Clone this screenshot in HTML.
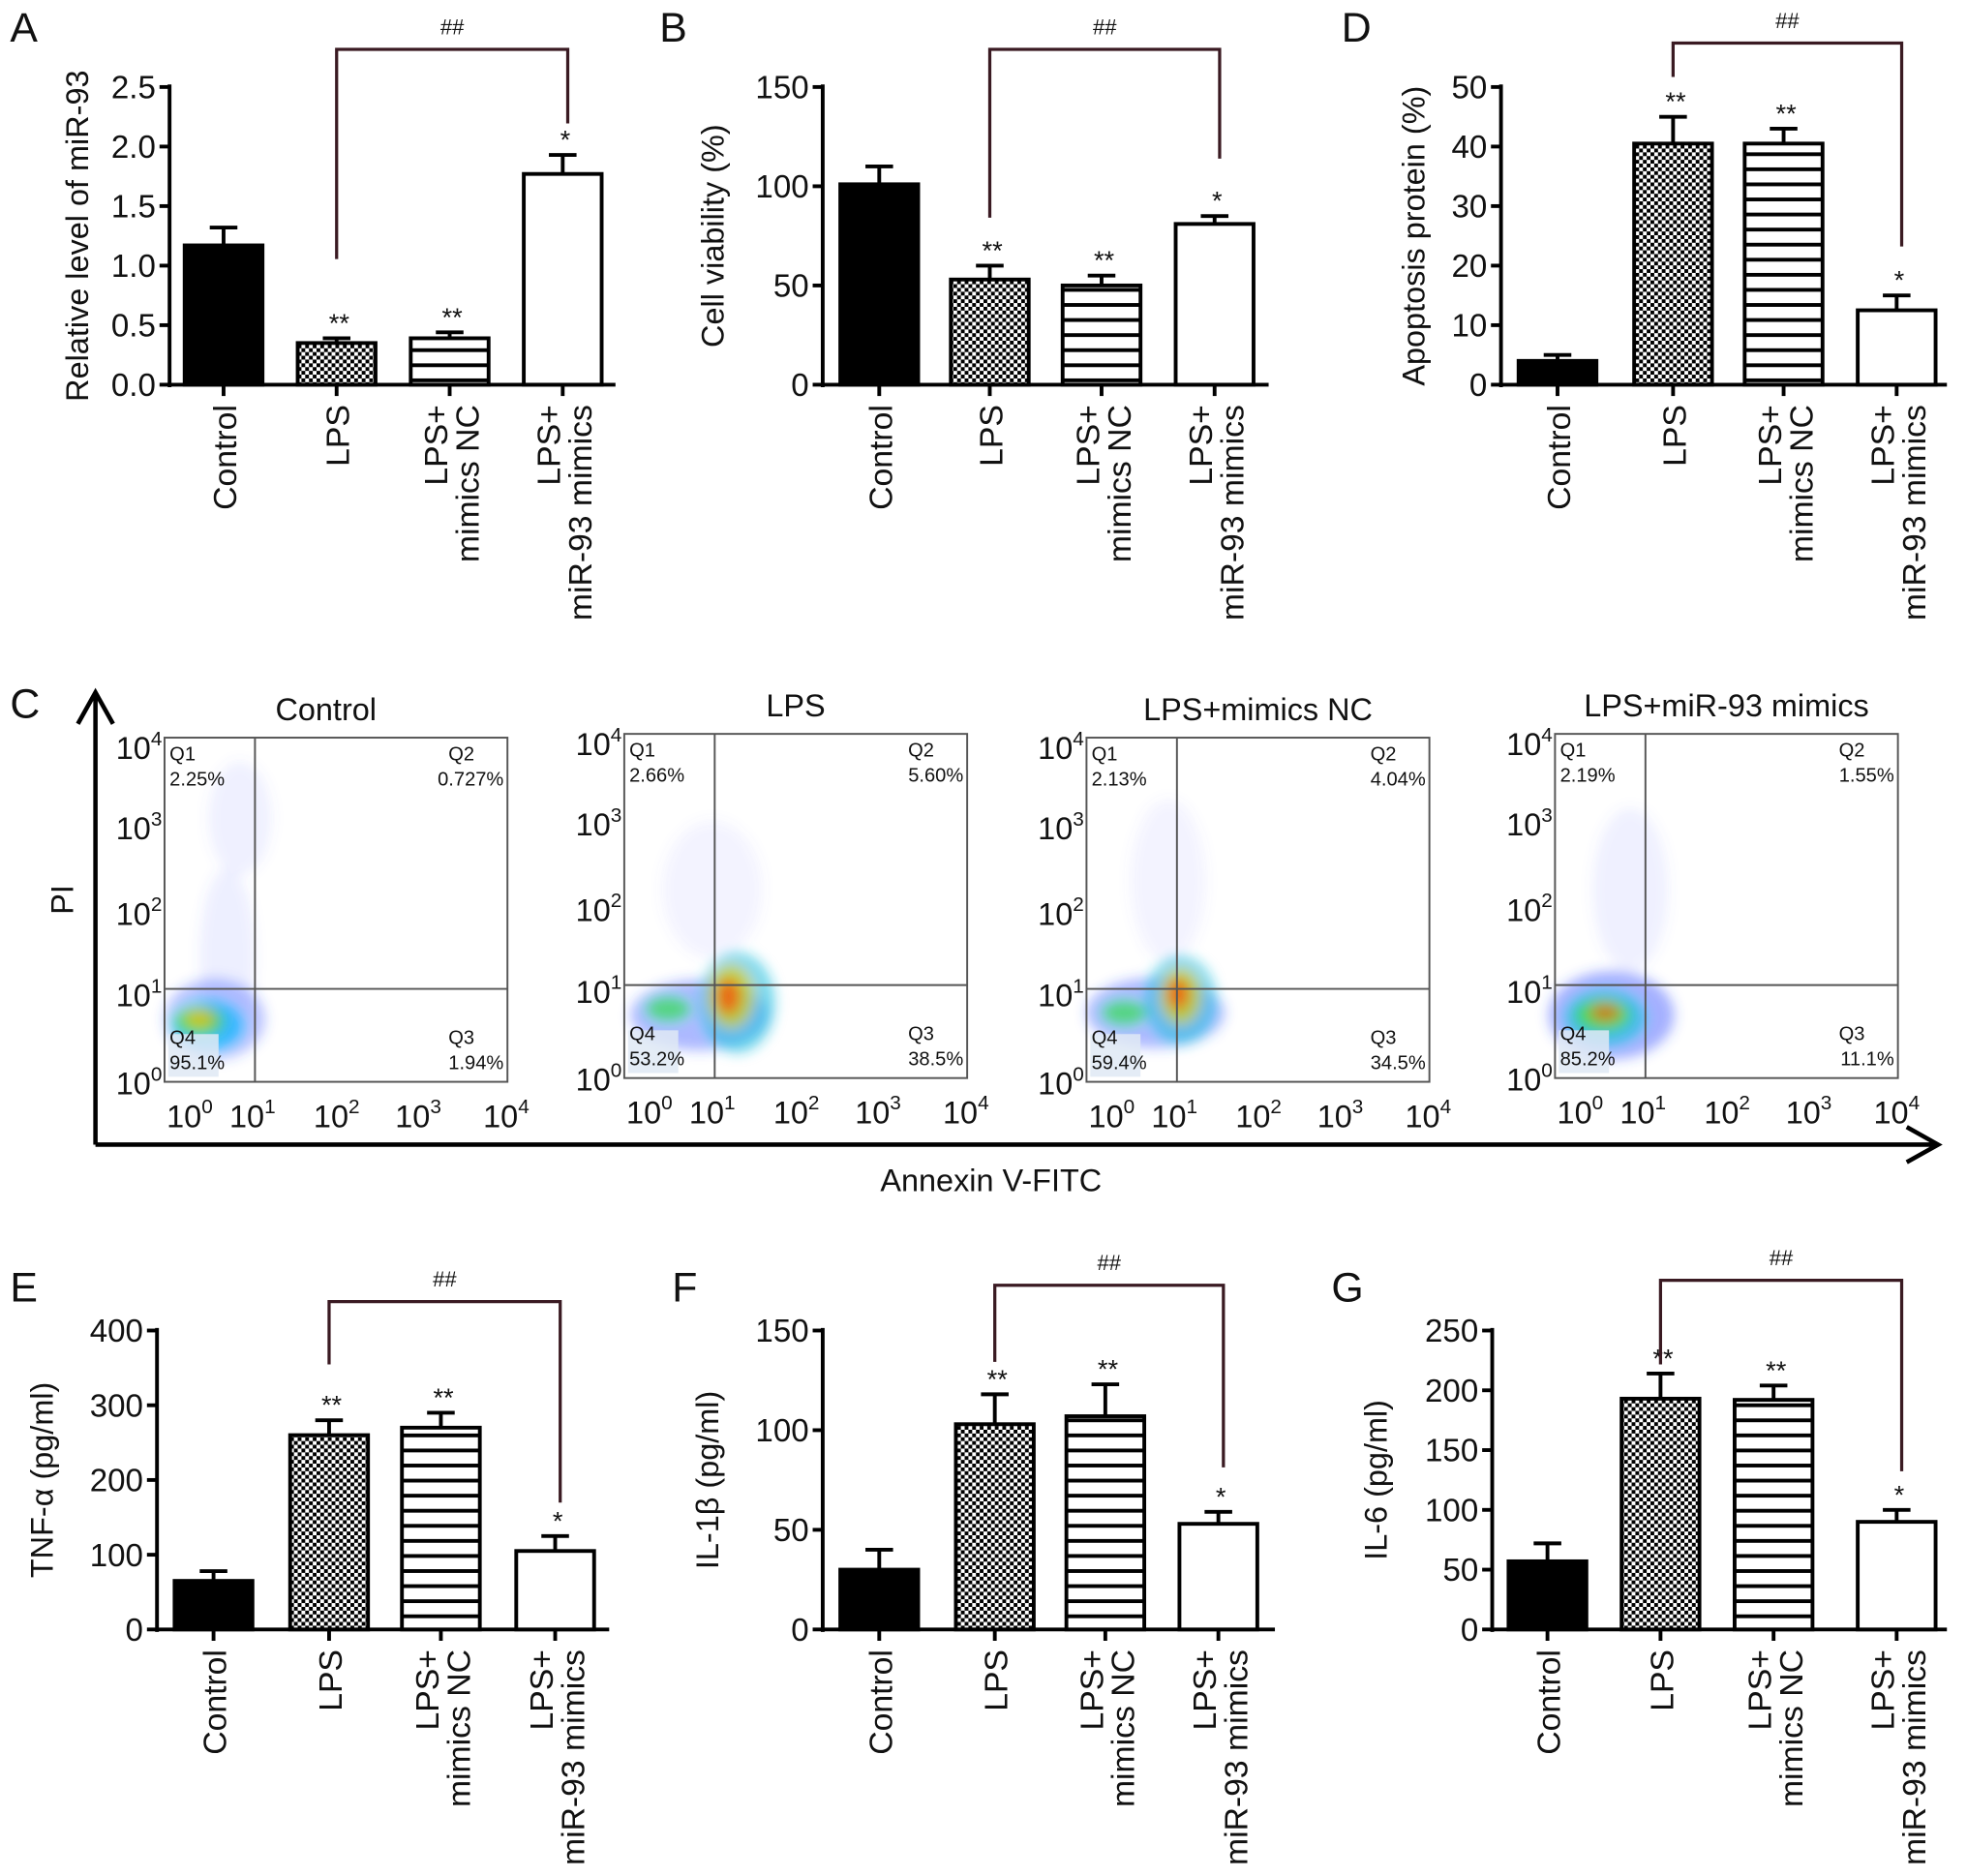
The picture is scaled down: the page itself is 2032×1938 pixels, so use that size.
<!DOCTYPE html>
<html><head><meta charset="utf-8"><style>
html,body{margin:0;padding:0;background:#fff}
svg{display:block}
text{font-family:"Liberation Sans",Arial,sans-serif;fill:#111}
</style></head><body>
<svg id="fig" xmlns="http://www.w3.org/2000/svg" width="2032" height="1938" viewBox="0 0 1566 1491">
<defs>
<pattern id="checker" width="6" height="6" patternUnits="userSpaceOnUse">
<rect width="6" height="6" fill="#fff"/><rect width="3" height="3" fill="#000"/><rect x="3" y="3" width="3" height="3" fill="#000"/>
</pattern>
<pattern id="stripes" width="8" height="12" patternUnits="userSpaceOnUse">
<rect width="8" height="12" fill="#fff"/><rect y="0" width="8" height="3" fill="#000"/>
</pattern>
<filter id="blur" x="-50%" y="-50%" width="200%" height="200%"><feGaussianBlur stdDeviation="5"/></filter>
</defs>
<g id="bars"></g>
<g id="flow"></g>
</svg>
<script>
// ===== Bar chart data =====
const categories = ["Control","LPS","LPS+|mimics NC","LPS+|miR-93 mimics"];
const valsA = [1.17,0.35,0.39,1.77];
const errsA = [0.15,0.04,0.05,0.16];
const ticksA = ["0.0","0.5","1.0","1.5","2.0","2.5"];
const sigA = ["","**","**","*"];
const valsB = [101,53,50,81];
const errsB = [9,7,5,4];
const ticksB = ["0","50","100","150"];
const valsD = [4,40.5,40.5,12.5];
const errsD = [1,4.5,2.5,2.5];
const ticksD = ["0","10","20","30","40","50"];
const valsE = [65,260,270,105];
const errsE = [13,20,20,20];
const ticksE = ["0","100","200","300","400"];
const valsF = [30,103,107,53];
const errsF = [10,15,16,6];
const ticksF = ["0","50","100","150"];
const valsG = [57,193,192,90];
const errsG = [15,21,12,10];
const ticksG = ["0","50","100","150","200","250"];
const sigOthers = ["","**","**","*"];
// flow data
const flowTitles = ["Control","LPS","LPS+mimics NC","LPS+miR-93 mimics"];
const flowQ1 = ["2.25%","2.66%","2.13%","2.19%"];
const flowQ2 = ["0.727%","5.60%","4.04%","1.55%"];
const flowQ3 = ["1.94%","38.5%","34.5%","11.1%"];
const flowQ4 = ["95.1%","53.2%","59.4%","85.2%"];

const NS="http://www.w3.org/2000/svg";
function mk(tag,attrs,parent,text){const e=document.createElementNS(NS,tag);for(const k in attrs)e.setAttribute(k,attrs[k]);if(text!==undefined)e.textContent=text;parent.appendChild(e);return e;}

const fills=["#000","url(#checker)","url(#stripes)","#fff"];
const barsG=document.getElementById('bars');

function barChart(cfg){
  const g=mk('g',{},barsG);
  
  
  const max=parseFloat(cfg.ticks[cfg.ticks.length-1]);
  const y=v=>cfg.y0-v/max*(cfg.y0-cfg.y1);
  const L=mk('text',{x:cfg.lx,y:cfg.ly,'font-size':33},g,cfg.letter);
  
  
  const ax=mk('line',{x1:cfg.ax,y1:cfg.y1-2,x2:cfg.ax,y2:cfg.y0+2,stroke:'#000','stroke-width':3},g);
  
  
  cfg.ticks.forEach(t=>{
    const ty=y(parseFloat(t));
    mk('line',{x1:cfg.ax-8,y1:ty,x2:cfg.ax,y2:ty,stroke:'#000','stroke-width':3},g);
    const tl=mk('text',{x:cfg.ax-11,y:ty+9,'font-size':25.5,'text-anchor':'end'},g,t);
    
    
  });
  const xa=mk('line',{x1:cfg.ax,y1:cfg.y0,x2:cfg.xend,y2:cfg.y0,stroke:'#000','stroke-width':3},g);
  
  
  const yt=mk('text',{x:0,y:0,'font-size':25,'text-anchor':'middle',transform:`translate(${cfg.tx},${(cfg.y0+cfg.y1)/2}) rotate(-90)`},g,cfg.title);
  
  
  const bw=cfg.bw||62;
  cfg.vals.forEach((v,i)=>{
    const cx=cfg.cx[i];
    const top=y(v), et=y(v+cfg.errs[i]);
    mk('line',{x1:cx,y1:top,x2:cx,y2:et,stroke:'#000','stroke-width':3},g);
    mk('line',{x1:cx-11,y1:et,x2:cx+11,y2:et,stroke:'#000','stroke-width':3},g);
    const r=mk('rect',{x:cx-bw/2,y:top,width:bw,height:cfg.y0-top,fill:fills[i],stroke:'#000','stroke-width':3},g);
    
    
    mk('line',{x1:cx,y1:cfg.y0,x2:cx,y2:cfg.y0+9,stroke:'#000','stroke-width':3},g);
    if(cfg.sig[i]){const s=mk('text',{x:cx+2,y:et-5,'font-size':21,'text-anchor':'middle'},g,cfg.sig[i]);
      
      }
    const parts=categories[i].split('|');
    parts.forEach((p,j)=>{
      const off=parts.length===1?10:(j===0?-2:23);
      const t=mk('text',{x:0,y:0,'font-size':26,'text-anchor':'end',transform:`translate(${cx+off},${cfg.y0+16}) rotate(-90)`},g,p);
      
      
    });
  });
  const b1x=cfg.cx[1], b2x=cfg.cx[3];
  const br=mk('path',{d:`M${b1x},${cfg.bL} V${cfg.bT} H${b2x+4} V${cfg.bR}`,fill:'none',stroke:'#3a1a22','stroke-width':2.5},g);
  
  
  const hh=mk('text',{x:(b1x+b2x)/2+2,y:cfg.bT-12,'font-size':17,'text-anchor':'middle'},g,'##');
  
  
}

barChart({letter:'A',lx:8,ly:32,ax:135,y0:305,y1:68,xend:490,tx:70,title:'Relative level of miR-93',vals:valsA,errs:errsA,ticks:ticksA,sig:sigA,cx:[178,268,358,448],bL:205,bT:38,bR:97});
barChart({letter:'B',lx:525,ly:32,ax:655,y0:305,y1:68,xend:1010,tx:576,title:'Cell viability (%)',vals:valsB,errs:errsB,ticks:ticksB,sig:sigOthers,cx:[700,788,877,967],bL:172,bT:38,bR:125});
barChart({letter:'D',lx:1068,ly:32,ax:1195,y0:305,y1:68,xend:1550,tx:1134,title:'Apoptosis protein (%)',vals:valsD,errs:errsD,ticks:ticksD,sig:sigOthers,cx:[1240,1332,1420,1510],bL:60,bT:33,bR:195});
barChart({letter:'E',lx:8,ly:1035,ax:125,y0:1296,y1:1058,xend:485,tx:42,title:'TNF-α (pg/ml)',vals:valsE,errs:errsE,ticks:ticksE,sig:sigOthers,cx:[170,262,351,442],bL:1085,bT:1035,bR:1195});
barChart({letter:'F',lx:535,ly:1035,ax:655,y0:1296,y1:1058,xend:1015,tx:572,title:'IL-1β (pg/ml)',vals:valsF,errs:errsF,ticks:ticksF,sig:sigOthers,cx:[700,792,880,970],bL:1083,bT:1022,bR:1167});
barChart({letter:'G',lx:1060,ly:1035,ax:1188,y0:1296,y1:1058,xend:1550,tx:1104,title:'IL-6 (pg/ml)',vals:valsG,errs:errsG,ticks:ticksG,sig:sigOthers,cx:[1232,1322,1412,1510],bL:1085,bT:1018,bR:1170});

// ===== Flow cytometry panel C =====
const fl=document.getElementById('flow');
const boxes=[[131,586],[497,583],[865,586],[1238,583]];
const BW=273,BH=274;
const cL=mk('text',{x:8,y:570,'font-size':33},fl,'C');


const bigAx=mk('path',{d:'M76,910 V550 M62,575 L76,550 L90,575 M76,910 H1543 M1518,896 L1543,910 L1518,924',fill:'none',stroke:'#000','stroke-width':3.5},fl);


const pi=mk('text',{x:0,y:0,'font-size':25,'text-anchor':'middle',transform:'translate(58,715) rotate(-90)'},fl,'PI');


const an=mk('text',{x:789,y:947,'font-size':25,'text-anchor':'middle'},fl,'Annexin V-FITC');



const blobSets=[
 [[40,-50,40,32,'#3050ff',0.35],[35,-45,28,20,'#00c0ff',0.7],[28,-48,20,12,'#30e050',0.8],[28,-50,12,7,'#f0c000',0.8],[50,-100,22,70,'#5060ff',0.1],[60,-210,25,45,'#6070ff',0.1]],
 [[60,-50,55,28,'#3050ff',0.4],[90,-60,30,40,'#20c0e0',0.6],[85,-65,18,25,'#e0d000',0.7],[83,-65,9,14,'#ff4000',0.7],[35,-55,18,10,'#30e050',0.7],[70,-150,40,55,'#6070ff',0.08]],
 [[55,-55,55,28,'#3050ff',0.4],[75,-65,28,35,'#20c0e0',0.6],[75,-68,16,22,'#e0d000',0.7],[73,-70,8,12,'#ff4000',0.7],[30,-55,18,10,'#30e050',0.7],[65,-160,30,65,'#6070ff',0.08]],
 [[45,-50,50,35,'#3050ff',0.45],[40,-48,32,22,'#20c0e0',0.7],[38,-50,22,13,'#40e040',0.8],[40,-52,12,7,'#ff6000',0.7],[60,-150,30,65,'#6070ff',0.1]]
];
const xl=[20,70,137,202,272], yl=[275,205,140,72,8];
boxes.forEach((b,i)=>{
  const [bx,by]=b;
  const g=mk('g',{},fl);
  
  
  const t=mk('text',{x:bx+BW/2-(i===0?8:0),y:by-14,'font-size':25,'text-anchor':'middle'},g,flowTitles[i]);
  
  
  const cg=mk('g',{filter:'url(#blur)'},g);
  blobSets[i].forEach(s=>mk('ellipse',{cx:bx+s[0],cy:by+BH+s[1],rx:s[2],ry:s[3],fill:s[4],opacity:s[5]},cg));
  mk('rect',{x:bx+3,y:by+BH-38,width:40,height:34,fill:'#dfe9f5',opacity:0.85},g);
  const fr=mk('rect',{x:bx,y:by,width:BW,height:BH,fill:'none',stroke:'#555','stroke-width':1.5},g);
  
  
  mk('line',{x1:bx+72,y1:by,x2:bx+72,y2:by+BH,stroke:'#555','stroke-width':1.5},g);
  mk('line',{x1:bx,y1:by+200,x2:bx+BW,y2:by+200,stroke:'#555','stroke-width':1.5},g);
  const q=[['Q1',flowQ1[i],bx+4,by+18],['Q2',flowQ2[i],bx+BW-3,by+18],['Q3',flowQ3[i],bx+BW-3,by+BH-30],['Q4',flowQ4[i],bx+4,by+BH-30]];
  q.forEach((qq,k)=>{
    const right=(k===1||k===2);
    const a=mk('text',{x:right?qq[2]-44:qq[2],y:qq[3],'font-size':15.5,fill:'#333'},g,qq[0]);
    
    
    const p=mk('text',{x:qq[2],y:qq[3]+20,'font-size':15.5,'text-anchor':right?'end':'start',fill:'#333'},g,qq[1]);
    
    
  });
  for(let k=0;k<5;k++){
    const tx=mk('text',{x:bx+xl[k],y:by+BH+36,'font-size':25,'text-anchor':'middle'},g);
    
    
    mk('tspan',{},tx,'10');mk('tspan',{dy:-11,'font-size':16},tx,String(k));
    const ty=mk('text',{x:bx-2,y:by+yl[k]+9,'font-size':25,'text-anchor':'end'},g);
    
    
    mk('tspan',{},ty,'10');mk('tspan',{dy:-11,'font-size':16},ty,String(k));
  }
});
</script>
</body></html>
